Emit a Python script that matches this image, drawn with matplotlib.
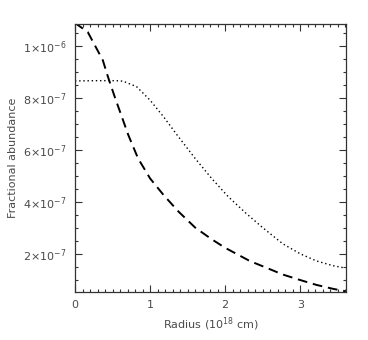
import numpy as np
import matplotlib
matplotlib.use('Agg')
from matplotlib import pyplot as plt
from matplotlib.ticker import MultipleLocator, FixedLocator

# radius in 10^18 cm, abundance in units of 1e-7
r_dashed = [0.0, 0.17, 0.37, 0.44, 0.53, 0.63, 0.71, 0.84, 1.0, 1.18, 1.38,
            1.6, 1.82, 2.0, 2.33, 2.56, 2.77, 3.0, 3.22, 3.44, 3.6]
ab_dashed = [10.9, 10.55, 9.47, 8.82, 8.05, 7.24, 6.59, 5.69, 4.92, 4.28, 3.64,
             3.03, 2.58, 2.25, 1.74, 1.47, 1.22, 1.01, 0.82, 0.67, 0.58]

r_dotted = [0.0, 0.3, 0.55, 0.64, 0.82, 1.0, 1.18, 1.36, 1.6, 1.82, 2.04,
            2.27, 2.49, 2.77, 3.0, 3.22, 3.44, 3.6]
ab_dotted = [8.67, 8.68, 8.68, 8.66, 8.45, 7.93, 7.29, 6.59, 5.69, 4.92, 4.22,
             3.6, 3.05, 2.4, 2.02, 1.74, 1.56, 1.47]

yticks = [2e-7, 4e-7, 6e-7, 8e-7, 1e-6]
ylabels = [r'$2{\times}10^{-7}$', r'$4{\times}10^{-7}$', r'$6{\times}10^{-7}$',
           r'$8{\times}10^{-7}$', r'$1{\times}10^{-6}$']

txt = '#4a4a4a'
plt.rcParams['mathtext.fontset'] = 'dejavusans'
plt.rcParams['font.size'] = 8

fig = plt.figure(figsize=(3.68, 3.40), dpi=100)
ax = fig.add_axes([0.2038, 0.1412, 0.7364, 0.7882])

ax.plot(r_dashed, np.array(ab_dashed) * 1e-7, color='black', lw=1.4,
        dashes=(5, 3))
ax.plot(r_dotted, np.array(ab_dotted) * 1e-7, color='black', lw=1.0,
        dashes=(1, 2))

ax.set_xlim(0, 3.61)
ax.set_ylim(0.55e-7, 1.086e-6)

ax.xaxis.set_major_locator(FixedLocator([0, 1, 2, 3]))
ax.xaxis.set_minor_locator(MultipleLocator(0.1))
ax.set_xticklabels(['0', '1', '2', '3'])
ax.yaxis.set_major_locator(FixedLocator(yticks))
ax.yaxis.set_minor_locator(MultipleLocator(0.5e-7))
ax.set_yticklabels(ylabels)

ax.tick_params(which='both', direction='in', top=True, right=True,
               colors='#333333', labelcolor=txt, width=0.8)
ax.tick_params(which='major', length=5, pad=6)
ax.tick_params(which='minor', length=2.5)
for s in ax.spines.values():
    s.set_linewidth(0.9)
    s.set_color('#333333')

ax.set_xlabel(r'Radius (10$^{18}$ cm)', color=txt, labelpad=4)
ax.set_ylabel('Fractional abundance', color=txt, labelpad=4)

fig.savefig('out.png', dpi=100)
